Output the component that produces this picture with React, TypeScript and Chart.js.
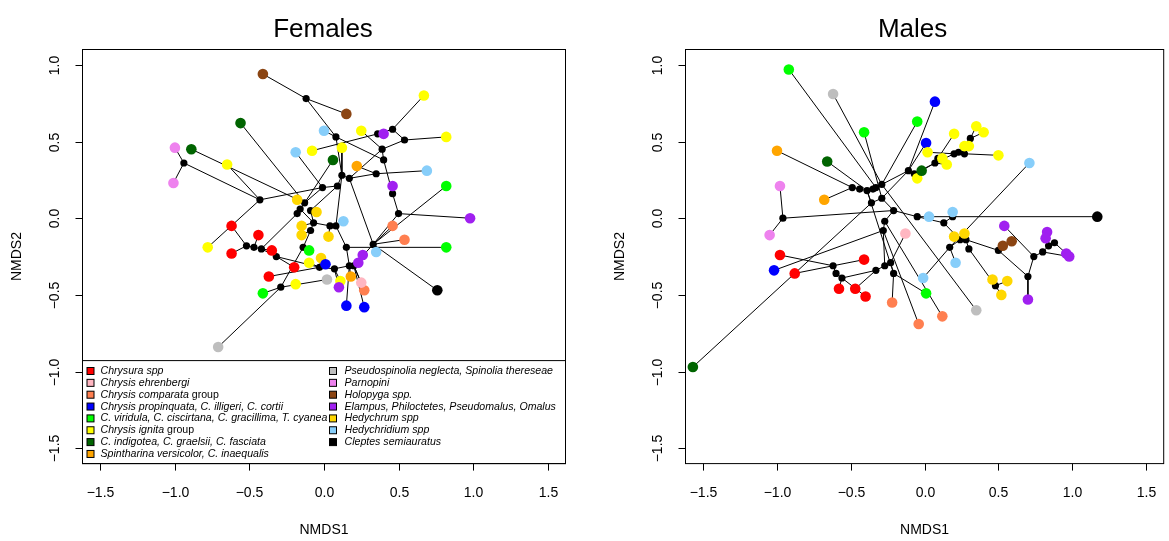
import React, { useEffect, useRef } from "react";
import { Chart, registerables } from "chart.js";
Chart.register(...registerables);

const groupNames: string[] = [
  "Chrysura spp",
  "Chrysis ehrenbergi",
  "Chrysis comparata group",
  "Chrysis propinquata, C. illigeri, C. cortii",
  "C. viridula, C. ciscirtana, C. gracillima, T. cyanea",
  "Chrysis ignita group",
  "C. indigotea, C. graelsii, C. fasciata",
  "Spintharina versicolor, C. inaequalis",
  "Pseudospinolia neglecta, Spinolia thereseae",
  "Parnopini",
  "Holopyga spp.",
  "Elampus, Philoctetes, Pseudomalus, Omalus",
  "Hedychrum spp",
  "Hedychridium spp",
  "Cleptes semiauratus",
];
const groupColors: string[] = [
  "#FF0000", "#FFB6C1", "#FF7F50", "#0000FF", "#00FF00", "#FFFF00", "#006400",
  "#FFA500", "#BEBEBE", "#EE82EE", "#8B4513", "#A020F0", "#FFD700", "#87CEFA", "#000000",
];

const xTicks: number[] = [-1.5, -1, -0.5, 0, 0.5, 1, 1.5];
const xTickLabels: string[] = ["\u22121.5", "\u22121.0", "\u22120.5", "0.0", "0.5", "1.0", "1.5"];
const yTicks: number[] = [-1.5, -1, -0.5, 0, 0.5, 1];
const yTickLabels: string[] = ["\u22121.5", "\u22121.0", "\u22120.5", "0.0", "0.5", "1.0"];

type Tip = [string, number, number, number];
type Nd = [string, number, number];
type Edge = [string, string];

// ---------------- Females ----------------
const femaleTips: Tip[] = [
  ["hol1", 10, -0.41, 0.94], ["hol2", 10, 0.15, 0.68],
  ["ind1", 6, -0.56, 0.62], ["ind2", 6, -0.89, 0.45], ["ind3", 6, 0.06, 0.38],
  ["hdd1", 13, 0.0, 0.57], ["hdd2", 13, -0.19, 0.43], ["hdd3", 13, 0.69, 0.31], ["hdd4", 13, 0.13, -0.02], ["hdd5", 13, 0.35, -0.22],
  ["par1", 9, -1.0, 0.46], ["par2", 9, -1.01, 0.23],
  ["ign1", 5, -0.08, 0.44], ["ign2", 5, -0.65, 0.35], ["ign3", 5, 0.25, 0.57], ["ign4", 5, 0.12, 0.46], ["ign5", 5, 0.67, 0.8],
  ["ign6", 5, 0.82, 0.53], ["ign7", 5, -0.78, -0.19], ["ign8", 5, -0.1, -0.29], ["ign9", 5, -0.19, -0.43], ["ign10", 5, 0.11, -0.41],
  ["ela1", 11, 0.4, 0.55], ["ela2", 11, 0.46, 0.21], ["ela3", 11, 0.98, 0.0], ["ela4", 11, 0.26, -0.24], ["ela5", 11, 0.23, -0.29], ["ela6", 11, 0.1, -0.45],
  ["spi1", 7, 0.22, 0.34], ["spi2", 7, 0.18, -0.38],
  ["hed1", 12, -0.18, 0.12], ["hed2", 12, -0.05, 0.04], ["hed3", 12, -0.15, -0.05], ["hed4", 12, -0.15, -0.11], ["hed5", 12, 0.03, -0.12], ["hed6", 12, -0.02, -0.26],
  ["chu1", 0, -0.62, -0.05], ["chu2", 0, -0.44, -0.11], ["chu3", 0, -0.62, -0.23], ["chu4", 0, -0.35, -0.21], ["chu5", 0, -0.2, -0.32], ["chu6", 0, -0.37, -0.38],
  ["vir1", 4, 0.82, 0.21], ["vir2", 4, 0.82, -0.19], ["vir3", 4, -0.1, -0.21], ["vir4", 4, -0.41, -0.49],
  ["com1", 2, 0.46, -0.05], ["com2", 2, 0.54, -0.14], ["com3", 2, 0.27, -0.47],
  ["ehr1", 1, 0.25, -0.42],
  ["pro1", 3, 0.01, -0.3], ["pro2", 3, 0.15, -0.57], ["pro3", 3, 0.27, -0.58],
  ["pse1", 8, 0.02, -0.4], ["pse2", 8, -0.71, -0.84],
  ["cle1", 14, 0.76, -0.47],
];
const femaleNodes: Nd[] = [
  ["f1", -0.12, 0.78], ["f2", 0.08, 0.53], ["f3", 0.36, 0.55], ["f4", 0.46, 0.58], ["f5", 0.54, 0.51],
  ["f6", 0.39, 0.45], ["f7", 0.4, 0.38], ["f8", 0.35, 0.29], ["f9", 0.12, 0.28], ["f10", 0.17, 0.26],
  ["f11", 0.09, 0.21], ["f12", -0.01, 0.2], ["f13", 0.46, 0.16], ["f14", -0.94, 0.36], ["f15", -0.43, 0.12],
  ["f16", -0.13, 0.1], ["f17", -0.16, 0.06], ["f18", -0.18, 0.03], ["f19", -0.09, 0.05], ["f20", 0.5, 0.03],
  ["f21", -0.07, -0.03], ["f22", -0.09, -0.08], ["f23", 0.04, -0.05], ["f24", 0.08, -0.05], ["f25", 0.15, -0.19],
  ["f26", 0.33, -0.17], ["f27", -0.14, -0.19], ["f28", -0.52, -0.18], ["f29", -0.47, -0.19], ["f30", -0.42, -0.2],
  ["f31", -0.32, -0.25], ["f32", -0.03, -0.32], ["f33", 0.07, -0.33], ["f34", 0.17, -0.31], ["f35", 0.2, -0.31],
  ["f36", -0.29, -0.45],
];
const femaleEdges: Edge[] = [
  ["hol1", "f1"], ["f1", "hol2"], ["f1", "f2"], ["hdd1", "f2"], ["f2", "f7"], ["f2", "f9"],
  ["ign3", "f6"], ["ign1", "f3"], ["f3", "ela1"], ["f3", "f4"], ["f4", "ign5"], ["f4", "f5"], ["f5", "ign6"], ["f5", "f6"],
  ["f6", "f7"], ["f7", "f13"], ["ela2", "f13"], ["f13", "f20"], ["f20", "ela3"],
  ["f6", "f10"], ["spi1", "f8"], ["f8", "hdd3"], ["f8", "f10"], ["f9", "f10"], ["f9", "f11"], ["ign4", "f9"], ["f11", "f12"], ["hdd2", "f12"],
  ["ind3", "f16"], ["ind1", "f16"], ["f12", "f16"],
  ["f14", "par1"], ["f14", "par2"], ["f14", "f15"], ["ign2", "f15"], ["f15", "f12"], ["f15", "ign7"], ["ind2", "f16"],
  ["f16", "hed1"], ["f16", "f17"], ["f17", "f18"], ["f17", "f21"], ["f19", "hed2"], ["f11", "f19"], ["f19", "f21"],
  ["f21", "hed3"], ["f21", "f22"], ["f22", "hed4"], ["f21", "f23"], ["f23", "f24"], ["f23", "hed5"], ["f24", "hdd4"], ["f24", "f25"], ["f9", "f24"],
  ["f22", "f27"], ["f27", "vir3"], ["f27", "f36"], ["f36", "vir4"], ["f36", "pse2"], ["f36", "pse1"],
  ["f28", "chu1"], ["f28", "f29"], ["f29", "chu2"], ["f28", "chu3"], ["f29", "f30"], ["f30", "chu4"], ["f30", "f31"], ["f30", "f18"],
  ["f31", "chu5"], ["f31", "f32"], ["chu6", "f32"],
  ["f32", "pro1"], ["f32", "hed6"], ["f32", "ign8"], ["f32", "f33"], ["f33", "ign10"], ["f33", "ela6"], ["f33", "f34"],
  ["f34", "f35"], ["f34", "spi2"], ["f34", "pro2"], ["f35", "pro3"], ["f35", "ehr1"], ["f35", "com3"], ["f35", "ela4"], ["f35", "ela5"],
  ["f35", "f26"], ["f26", "hdd5"], ["f26", "com1"], ["f26", "com2"], ["f26", "vir1"], ["f26", "cle1"], ["f26", "f20"],
  ["f25", "vir2"], ["f25", "f34"], ["f10", "f26"],
];

// ---------------- Males ----------------
const maleTips: Tip[] = [
  ["vir1", 4, -0.92, 0.97], ["vir2", 4, -0.41, 0.56], ["vir3", 4, -0.05, 0.63], ["vir4", 4, 0.01, -0.49],
  ["pse1", 8, -0.62, 0.81], ["pse2", 8, 0.35, -0.6],
  ["pro1", 3, 0.07, 0.76], ["pro2", 3, 0.01, 0.49], ["pro3", 3, -1.02, -0.34],
  ["ign1", 5, 0.02, 0.43], ["ign2", 5, -0.05, 0.26], ["ign3", 5, 0.2, 0.55], ["ign4", 5, 0.35, 0.6], ["ign5", 5, 0.4, 0.56],
  ["ign6", 5, 0.27, 0.47], ["ign7", 5, 0.3, 0.47], ["ign8", 5, 0.5, 0.41], ["ign9", 5, 0.12, 0.39], ["ign10", 5, 0.15, 0.35],
  ["spi1", 7, -1.0, 0.44], ["spi2", 7, -0.68, 0.12],
  ["ind1", 6, -0.66, 0.37], ["ind2", 6, -0.02, 0.31], ["ind3", 6, -1.57, -0.97],
  ["par1", 9, -0.98, 0.21], ["par2", 9, -1.05, -0.11],
  ["ehr1", 1, -0.13, -0.1],
  ["chu1", 0, -0.98, -0.24], ["chu2", 0, -0.41, -0.27], ["chu3", 0, -0.88, -0.36], ["chu4", 0, -0.58, -0.46], ["chu5", 0, -0.47, -0.46], ["chu6", 0, -0.4, -0.51],
  ["com1", 2, -0.22, -0.55], ["com2", 2, 0.12, -0.64], ["com3", 2, -0.04, -0.69],
  ["hdd1", 13, 0.71, 0.36], ["hdd2", 13, 0.03, 0.01], ["hdd3", 13, 0.19, 0.04], ["hdd4", 13, 0.21, -0.29], ["hdd5", 13, -0.01, -0.39],
  ["hed1", 12, 0.2, -0.12], ["hed2", 12, 0.27, -0.1], ["hed3", 12, 0.46, -0.4], ["hed4", 12, 0.56, -0.41], ["hed5", 12, 0.52, -0.5],
  ["hol1", 10, 0.53, -0.18], ["hol2", 10, 0.59, -0.15],
  ["ela1", 11, 0.54, -0.05], ["ela2", 11, 0.83, -0.09], ["ela3", 11, 0.82, -0.13], ["ela4", 11, 0.96, -0.23], ["ela5", 11, 0.98, -0.25], ["ela6", 11, 0.7, -0.53],
  ["cle1", 14, 1.17, 0.01],
];
const maleNodes: Nd[] = [
  ["m1", -0.49, 0.2], ["m2", -0.44, 0.19], ["m3", -0.39, 0.18], ["m4", -0.35, 0.19], ["m5", -0.33, 0.2],
  ["m6", -0.29, 0.22], ["m7", -0.36, 0.1], ["m8", -0.29, 0.13], ["m9", -0.21, 0.05], ["m10", -0.05, 0.01],
  ["m11", -0.27, -0.02], ["m12", -0.28, -0.08], ["m13", -0.96, 0.0], ["m14", -0.11, 0.31], ["m15", -0.07, 0.29],
  ["m16", 0.07, 0.36], ["m17", 0.09, 0.39], ["m18", 0.2, 0.42], ["m19", 0.23, 0.43], ["m20", 0.27, 0.42],
  ["m21", 0.31, 0.52], ["m22", 0.13, -0.03], ["m23", 0.19, 0.01], ["m24", 0.24, -0.14], ["m25", 0.28, -0.14],
  ["m26", 0.17, -0.19], ["m27", 0.3, -0.2], ["m28", 0.5, -0.21], ["m29", 0.74, -0.25], ["m30", 0.8, -0.22],
  ["m31", 0.84, -0.18], ["m32", 0.88, -0.16], ["m33", 0.7, -0.38], ["m34", 0.48, -0.44], ["m35", -0.62, -0.31],
  ["m36", -0.6, -0.36], ["m37", -0.56, -0.39], ["m38", -0.33, -0.34], ["m39", -0.27, -0.31], ["m40", -0.23, -0.29],
  ["m41", -0.21, -0.36],
];
const maleEdges: Edge[] = [
  ["vir1", "m5"], ["pse1", "m6"], ["vir2", "m8"], ["vir3", "m6"], ["pro1", "m14"], ["pro2", "m14"], ["m14", "m6"], ["m14", "m15"],
  ["ign2", "m15"], ["ind2", "m16"], ["m15", "m16"], ["m16", "ign9"], ["m16", "ign10"], ["m16", "m17"], ["m17", "ign3"],
  ["m16", "m18"], ["m18", "m19"], ["m19", "m20"], ["m20", "ign6"], ["m20", "ign7"], ["m19", "m21"], ["m21", "ign4"], ["m21", "ign5"],
  ["ign1", "m18"], ["m20", "ign8"],
  ["spi1", "m1"], ["ind1", "m3"], ["spi2", "m1"], ["m1", "m2"], ["m2", "m3"], ["m3", "m4"], ["m4", "m5"], ["m5", "m6"],
  ["m3", "m7"], ["m7", "ind3"], ["m7", "m8"], ["m8", "m9"], ["m14", "m8"],
  ["par1", "m13"], ["m13", "par2"], ["m13", "m9"], ["m9", "m10"], ["m10", "cle1"], ["m10", "m22"], ["m22", "m23"], ["m23", "hdd3"],
  ["m22", "m24"], ["m24", "hed1"], ["m24", "m25"], ["m25", "hed2"], ["m26", "hdd4"], ["m26", "hdd5"], ["m26", "hdd1"], ["m26", "m24"],
  ["m25", "m28"], ["m28", "hol1"], ["m28", "hol2"], ["m28", "m33"], ["m33", "ela6"], ["m33", "m29"], ["m29", "ela1"], ["m29", "m30"],
  ["m30", "m31"], ["m31", "ela2"], ["m31", "ela3"], ["m31", "m32"], ["m32", "ela4"], ["m30", "ela5"],
  ["m25", "m27"], ["m27", "m34"], ["m34", "hed3"], ["m34", "hed4"], ["m34", "hed5"],
  ["chu1", "m35"], ["chu3", "m35"], ["m35", "chu2"], ["m35", "m36"], ["m36", "m37"], ["m37", "chu4"], ["m37", "chu6"], ["m37", "m38"],
  ["m38", "chu5"], ["m38", "m39"], ["m39", "m40"], ["m40", "ehr1"], ["m40", "m41"], ["m41", "com1"], ["m41", "vir4"],
  ["m39", "m12"], ["m12", "m11"], ["m11", "m9"], ["pro3", "m12"], ["com3", "m12"], ["com2", "m11"], ["pse2", "m6"], ["m3", "m41"],
];

const FONT = '"Liberation Sans", Arial, Helvetica, sans-serif';

function buildDatasets(tips: Tip[], nodes: Nd[], edges: Edge[]) {
  const pos: Record<string, { x: number; y: number }> = {};
  tips.forEach(([id, , x, y]) => (pos[id] = { x, y }));
  nodes.forEach(([id, x, y]) => (pos[id] = { x, y }));
  const edgeData: any[] = [];
  edges.forEach(([a, b]) => {
    edgeData.push({ ...pos[a] }, { ...pos[b] }, { x: null, y: null });
  });
  return [
    {
      label: "edges",
      data: edgeData,
      showLine: true,
      spanGaps: false,
      borderColor: "#000000",
      borderWidth: 1,
      pointRadius: 0,
      pointHoverRadius: 0,
      order: 3,
    },
    {
      label: "nodes",
      data: nodes.map(([, x, y]) => ({ x, y })),
      pointRadius: 3.6,
      pointHoverRadius: 3.6,
      pointBackgroundColor: "#000000",
      pointBorderWidth: 0,
      borderWidth: 0,
      order: 2,
    },
    {
      label: "tips",
      data: tips.map(([, , x, y]) => ({ x, y })),
      pointRadius: 5.3,
      pointHoverRadius: 5.3,
      pointBackgroundColor: tips.map(([, g]) => groupColors[g]),
      pointBorderWidth: 0,
      borderWidth: 0,
      order: 1,
    },
  ];
}

const rAxesPlugin = {
  id: "rAxes",
  afterDraw(chart: any, _args: any, opts: any) {
    const ctx: CanvasRenderingContext2D = chart.ctx;
    const ca = chart.chartArea;
    const xs = chart.scales.x;
    const ys = chart.scales.y;
    ctx.save();
    // legend
    if (opts.legend) {
      const top = ca.bottom - 103;
      ctx.fillStyle = "#ffffff";
      ctx.fillRect(ca.left, top, ca.right - ca.left, ca.bottom - top);
      ctx.strokeStyle = "#000";
      ctx.lineWidth = 1;
      ctx.strokeRect(ca.left, top, ca.right - ca.left, ca.bottom - top);
      ctx.textBaseline = "middle";
      ctx.textAlign = "left";
      groupNames.forEach((name, i) => {
        const col = i < 8 ? 0 : 1;
        const row = i < 8 ? i : i - 8;
        const sx = ca.left + (col === 0 ? 8 : 250.5);
        const tx = ca.left + (col === 0 ? 18 : 262);
        const y = ca.bottom - 92.6 + row * 11.85;
        ctx.fillStyle = groupColors[i];
        ctx.fillRect(sx - 3.5, y - 3.5, 7, 7);
        ctx.strokeStyle = "#000";
        ctx.strokeRect(sx - 3.5, y - 3.5, 7, 7);
        ctx.fillStyle = "#000";
        let main = name;
        let suffix = "";
        if (name.endsWith(" group")) {
          main = name.slice(0, -6);
          suffix = " group";
        }
        ctx.font = `italic 10.6px ${FONT}`;
        ctx.fillText(main, tx, y);
        if (suffix) {
          const w = ctx.measureText(main).width;
          ctx.font = `10.6px ${FONT}`;
          ctx.fillText(suffix, tx + w, y);
        }
      });
    }
    // box
    ctx.strokeStyle = "#000";
    ctx.lineWidth = 1;
    ctx.strokeRect(ca.left, ca.top, ca.right - ca.left, ca.bottom - ca.top);
    // x ticks
    ctx.fillStyle = "#000";
    ctx.font = `14px ${FONT}`;
    ctx.textAlign = "center";
    ctx.textBaseline = "middle";
    xTicks.forEach((v, i) => {
      const px = Math.round(xs.getPixelForValue(v)) + 0.5;
      ctx.beginPath();
      ctx.moveTo(px, ca.bottom);
      ctx.lineTo(px, ca.bottom + 7);
      ctx.stroke();
      ctx.fillText(xTickLabels[i], px, ca.bottom + 29.5);
    });
    // y ticks
    yTicks.forEach((v, i) => {
      const py = Math.round(ys.getPixelForValue(v)) + 0.5;
      ctx.beginPath();
      ctx.moveTo(ca.left, py);
      ctx.lineTo(ca.left - 7, py);
      ctx.stroke();
      ctx.save();
      ctx.translate(ca.left - 27.5, py);
      ctx.rotate(-Math.PI / 2);
      ctx.fillText(yTickLabels[i], 0, 0);
      ctx.restore();
    });
    // axis titles
    const cx = (ca.left + ca.right) / 2;
    const cy = (ca.top + ca.bottom) / 2;
    ctx.fillText("NMDS1", cx, 530);
    ctx.save();
    ctx.translate(ca.left - 65, cy);
    ctx.rotate(-Math.PI / 2);
    ctx.fillText("NMDS2", 0, 0);
    ctx.restore();
    // main title
    ctx.font = `26px ${FONT}`;
    ctx.fillText(opts.title, cx + (opts.titleShift || 0), 30);
    ctx.restore();
  },
};

function Panel(props: {
  left: number;
  width: number;
  padLeft: number;
  padRight: number;
  title: string;
  titleShift: number;
  legend: boolean;
  tips: Tip[];
  nodes: Nd[];
  edges: Edge[];
}) {
  const ref = useRef<HTMLCanvasElement | null>(null);
  useEffect(() => {
    if (!ref.current) return;
    const chart = new Chart(ref.current, {
      type: "scatter",
      data: { datasets: buildDatasets(props.tips, props.nodes, props.edges) as any },
      options: {
        responsive: false,
        animation: false,
        events: [],
        layout: { padding: { left: props.padLeft, right: props.padRight, top: 49.5, bottom: 541 - 463.6 } },
        plugins: {
          legend: { display: false },
          tooltip: { enabled: false },
          rAxes: { title: props.title, titleShift: props.titleShift, legend: props.legend },
        } as any,
        scales: {
          x: { type: "linear", min: -1.62, max: 1.62, display: false },
          y: { type: "linear", min: -1.6, max: 1.1, display: false },
        },
      },
      plugins: [rAxesPlugin as any],
    });
    return () => chart.destroy();
  }, []);
  return (
    <canvas
      ref={ref}
      width={props.width}
      height={541}
      style={{ position: "absolute", left: props.left, top: 0, width: props.width, height: 541 }}
    />
  );
}

export default function App() {
  return (
    <div style={{ position: "fixed", left: 0, top: 0, width: 1169, height: 541, background: "#fff", overflow: "hidden" }}>
      <Panel left={0} width={600} padLeft={82.5} padRight={600 - 565.5} title="Females" titleShift={-1} legend={true}
        tips={femaleTips} nodes={femaleNodes} edges={femaleEdges} />
      <Panel left={600} width={569} padLeft={85.5} padRight={0.5} title="Males" titleShift={-12} legend={false}
        tips={maleTips} nodes={maleNodes} edges={maleEdges} />
    </div>
  );
}
